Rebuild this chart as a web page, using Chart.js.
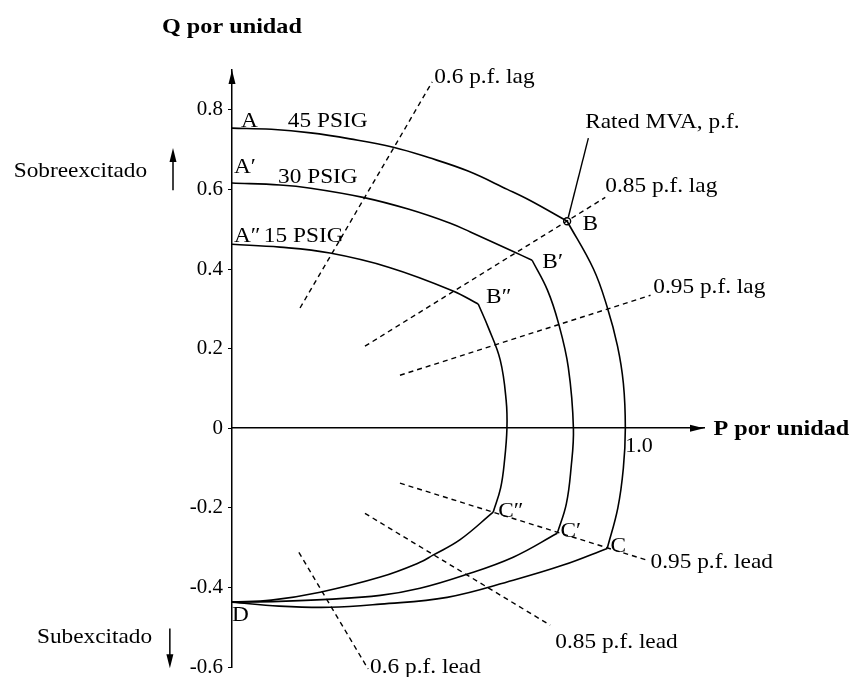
<!DOCTYPE html>
<html>
<head>
<meta charset="utf-8"/>
<title>Curva de capacidad</title>
<script src="https://cdn.jsdelivr.net/npm/chart.js"></script>
<style>
    body { margin: 0; background: #fff; }
    #chart-container { width: 853px; height: 677px; }
</style>
</head>
<body>
<div id="chart-container"><canvas id="capChart" width="853" height="677"></canvas></div>
<script>
// Curvas limite [P, Q] por unidad
const psig45Campo = [[0, 0.754], [0.1, 0.751], [0.2, 0.742], [0.3, 0.727], [0.41, 0.706], [0.5, 0.680], [0.6, 0.646], [0.7, 0.600], [0.758, 0.572], [0.852, 0.520]];
const psig45Armadura = [[0.852, 0.520], [0.919, 0.400], [0.954, 0.304], [0.980, 0.207], [0.995, 0.113], [1.0, 0], [0.995, -0.1], [0.981, -0.2], [0.954, -0.302]];
const psig45Sub = [[0.954, -0.302], [0.842, -0.344], [0.715, -0.382], [0.547, -0.425], [0.377, -0.442], [0.249, -0.450], [0.12, -0.447], [0, -0.437]];

const psig30Campo = [[0, 0.616], [0.122, 0.611], [0.2, 0.603], [0.333, 0.580], [0.45, 0.550], [0.555, 0.515], [0.606, 0.493], [0.715, 0.444], [0.763, 0.422]];
const psig30Armadura = [[0.763, 0.422], [0.802, 0.347], [0.830, 0.264], [0.855, 0.153], [0.868, 0], [0.862, -0.1], [0.850, -0.19], [0.827, -0.264]];
const psig30Sub = [[0.827, -0.264], [0.715, -0.324], [0.588, -0.370], [0.478, -0.402], [0.377, -0.420], [0.242, -0.430], [0.12, -0.435], [0, -0.437]];

const psig15Campo = [[0, 0.462], [0.122, 0.455], [0.249, 0.440], [0.4, 0.404], [0.562, 0.345], [0.626, 0.312]];
const psig15Armadura = [[0.626, 0.312], [0.652, 0.252], [0.682, 0.171], [0.697, 0.070], [0.699, 0], [0.693, -0.08], [0.683, -0.15], [0.664, -0.211]];
const psig15Sub = [[0.664, -0.211], [0.58, -0.28], [0.511, -0.319], [0.478, -0.337], [0.377, -0.374], [0.224, -0.412], [0.1, -0.432], [0, -0.437]];

// Rectas de factor de potencia (trazo discontinuo)
const fpLag06 = [[0.173, 0.302], [0.509, 0.870]];
const fpLag085 = [[0.338, 0.206], [0.949, 0.580]];
const fpLag095 = [[0.427, 0.133], [1.064, 0.334]];
const fpLead095 = [[0.427, -0.138], [1.056, -0.332]];
const fpLead085 = [[0.338, -0.214], [0.809, -0.495]];
const fpLead06 = [[0.170, -0.312], [0.346, -0.605]];

// Punto nominal y su linea de referencia
const puntoNominal = [[0.852, 0.520]];
const lineaNominal = [[0.906, 0.729], [0.855, 0.530]];

// Marcas de los ejes
const yTicks = [0.8, 0.6, 0.4, 0.2, 0, -0.2, -0.4, -0.6];
const xTicks = [1.0];

// Textos: [texto, P, Q, negrita]
const etiquetas = [
    ['Q por unidad', -0.178, 0.992, true],
    ['P por unidad', 1.224, -0.016, true],
    ['Sobreexcitado', -0.555, 0.631],
    ['Subexcitado', -0.496, -0.540],
    ['A', 0.023, 0.756],
    ['45 PSIG', 0.142, 0.756],
    ['A\u2032', 0.005, 0.641],
    ['30 PSIG', 0.117, 0.616],
    ['A\u2033', 0.005, 0.467],
    ['15 PSIG', 0.081, 0.467],
    ['0.6 p.f. lag', 0.514, 0.868],
    ['Rated MVA, p.f.', 0.898, 0.754],
    ['0.85 p.f. lag', 0.949, 0.593],
    ['B', 0.891, 0.497],
    ['B\u2032', 0.789, 0.402],
    ['B\u2033', 0.646, 0.314],
    ['0.95 p.f. lag', 1.071, 0.339],
    ['C\u2033', 0.677, -0.224],
    ['C\u2032', 0.835, -0.274],
    ['C', 0.962, -0.312],
    ['0.95 p.f. lead', 1.064, -0.352],
    ['0.85 p.f. lead', 0.822, -0.553],
    ['0.6 p.f. lead', 0.351, -0.616],
    ['D', 0.0, -0.485]
];

// Flechas: [P inicio, Q inicio, P punta, Q punta, con linea]
const flechas = [
    [0, 0.85, 0, 0.9, false],
    [1.15, 0, 1.2, 0, false],
    [-0.150, 0.598, -0.150, 0.704, true],
    [-0.158, -0.503, -0.158, -0.603, true]
];

const toXY = arr => arr.map(([p, q]) => ({x: p, y: q}));

function curva(arr) {
    return {data: toXY(arr), showLine: true, borderColor: '#000', borderWidth: 1.6,
            pointRadius: 0, tension: 0.4, fill: false, clip: false};
}
function recta(arr) {
    return {data: toXY(arr), showLine: true, borderColor: '#000', borderWidth: 1.4,
            borderDash: [5, 4], pointRadius: 0, fill: false, clip: false};
}

const textosPlugin = {
    id: 'textos',
    afterDatasetsDraw(chart) {
        const {ctx, scales: {x, y}} = chart;
        ctx.save();
        ctx.fillStyle = '#000';
        ctx.strokeStyle = '#000';
        ctx.textBaseline = 'alphabetic';
        etiquetas.forEach(([texto, p, q, bold]) => {
            ctx.font = (bold ? 'bold ' : '') + '22px "Liberation Serif"';
            ctx.save();
            ctx.translate(x.getPixelForValue(p), y.getPixelForValue(q));
            ctx.scale(bold ? 1.1 : 1.06, 1);
            ctx.fillText(texto, 0, 0);
            ctx.restore();
        });
        flechas.forEach(([p0, q0, p1, q1, linea]) => {
            const x0 = x.getPixelForValue(p0), y0 = y.getPixelForValue(q0);
            const x1 = x.getPixelForValue(p1), y1 = y.getPixelForValue(q1);
            const len = Math.hypot(x1 - x0, y1 - y0);
            const ux = (x1 - x0) / len, uy = (y1 - y0) / len;
            if (linea) {
                ctx.lineWidth = 1.5;
                ctx.beginPath();
                ctx.moveTo(x0, y0);
                ctx.lineTo(x1 - ux * 8, y1 - uy * 8);
                ctx.stroke();
            }
            const L = 14, w = 3.5;
            ctx.beginPath();
            ctx.moveTo(x1, y1);
            ctx.lineTo(x1 - ux * L - uy * w, y1 - uy * L + ux * w);
            ctx.lineTo(x1 - ux * L + uy * w, y1 - uy * L - ux * w);
            ctx.closePath();
            ctx.fill();
        });
        ctx.restore();
    }
};

const ctx = document.getElementById('capChart').getContext('2d');
new Chart(ctx, {
    type: 'scatter',
    data: {
        datasets: [
            curva(psig45Campo), curva(psig45Armadura), curva(psig45Sub),
            curva(psig30Campo), curva(psig30Armadura), curva(psig30Sub),
            curva(psig15Campo), curva(psig15Armadura), curva(psig15Sub),
            recta(fpLag06), recta(fpLag085), recta(fpLag095),
            recta(fpLead095), recta(fpLead085), recta(fpLead06),
            {data: toXY(lineaNominal), showLine: true, borderColor: '#000', borderWidth: 1.4, pointRadius: 0},
            {data: toXY(puntoNominal), pointRadius: 3.5, pointBackgroundColor: '#fff',
             pointBorderColor: '#000', pointBorderWidth: 1.4}
        ]
    },
    options: {
        responsive: false,
        animation: false,
        devicePixelRatio: 1,
        layout: {padding: {left: 172, top: 70, right: 149, bottom: 10}},
        plugins: {legend: {display: false}, tooltip: {enabled: false}},
        scales: {
            x: {
                type: 'linear', min: 0, max: 1.2,
                position: {y: 0},
                grid: {display: false},
                border: {display: true, color: '#000', width: 1.5},
                afterBuildTicks: s => { s.ticks = xTicks.map(v => ({value: v})); },
                afterFit: s => { s.height = 0; s.paddingLeft = 0; s.paddingRight = 0; },
                ticks: {
                    align: 'start', padding: -3, color: '#000',
                    font: {family: 'Liberation Serif', size: 22},
                    callback: v => v.toFixed(1)
                }
            },
            y: {
                type: 'linear', min: -0.6, max: 0.9,
                grid: {drawOnChartArea: false, tickLength: 4, color: '#000'},
                border: {display: true, color: '#000', width: 1.5},
                afterBuildTicks: s => { s.ticks = yTicks.map(v => ({value: v})); },
                afterFit: s => { s.width = 60; s.paddingTop = 0; s.paddingBottom = 0; },
                ticks: {
                    padding: 5, color: '#000',
                    font: {family: 'Liberation Serif', size: 21},
                    callback: v => String(v)
                }
            }
        }
    },
    plugins: [textosPlugin]
});
</script>
</body>
</html>
